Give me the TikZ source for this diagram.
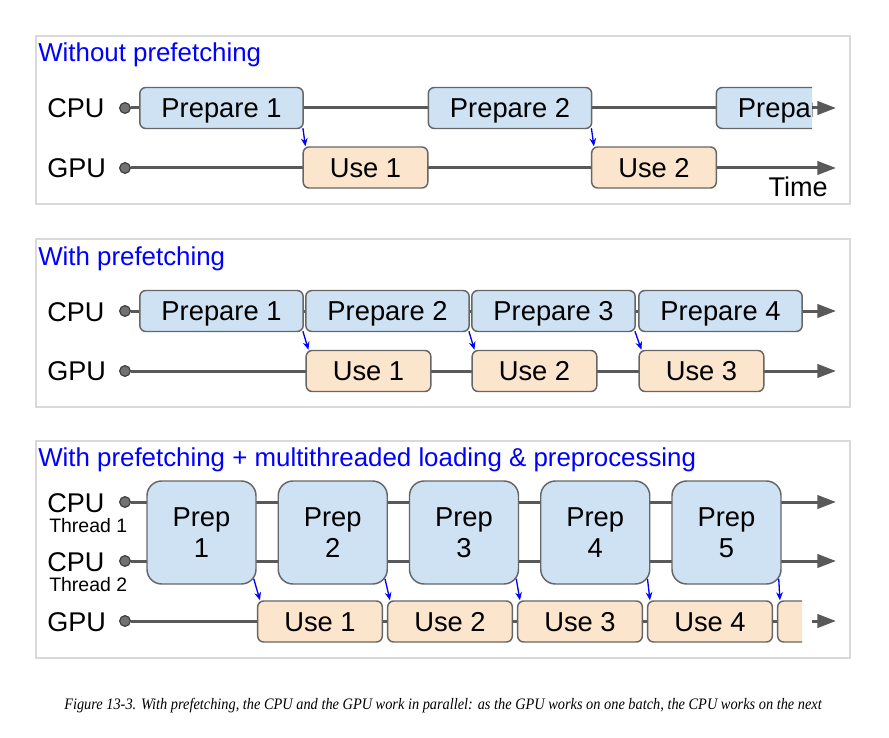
\documentclass[tikz,border=0pt]{standalone}
\usepackage{graphicx}
\usepackage{fontspec}
\setmainfont{Liberation Sans}
\newfontfamily\capfont{Liberation Serif}
\usetikzlibrary{arrows.meta,calc}
\definecolor{lineg}{HTML}{595959}
\definecolor{boxb}{HTML}{CFE2F3}
\definecolor{boxo}{HTML}{FCE5CD}
\definecolor{edgeg}{HTML}{666666}
\definecolor{frameg}{HTML}{D9D9D9}
\definecolor{ttl}{HTML}{0000FF}
\tikzset{
 frame/.style={draw=frameg,line width=1.5pt},
 title/.style={anchor=base west,text=ttl,font=\fontsize{19.4}{22}\selectfont,inner sep=0},
 lbl/.style={anchor=west,font=\fontsize{20.3}{24}\selectfont,inner sep=0},
 thr/.style={anchor=west,font=\fontsize{14.6}{17}\selectfont,inner sep=0},
 dot/.style={circle,fill=lineg!85,draw=lineg!70!black,line width=0.9pt,minimum size=8pt,inner sep=0},
 tl/.style={draw=lineg,line width=2.25pt},
 tla/.style={tl,-{Triangle[length=14pt,width=10pt,fill=lineg]}},
 boxbase/.style={draw=edgeg,line width=1.1pt,rounded corners=4.5pt,font=\fontsize{20.5}{24}\selectfont,inner sep=0,minimum height=30.75pt},
 prep/.style={boxbase,fill=boxb,minimum width=122.5pt,text height=14.6pt,text depth=0pt},
 use/.style={boxbase,fill=boxo,minimum width=93.5pt,text height=14.6pt,text depth=0pt},
 bigprep/.style={boxbase,fill=boxb,minimum width=81.75pt,minimum height=77.25pt,rounded corners=11pt,align=center,font=\fontsize{20.5}{23.25}\selectfont},
 feed/.style={draw=blue,line width=1pt,-{Stealth[length=6pt,width=5pt]}},
}
\begin{document}
\begin{tikzpicture}[x=0.75pt,y=-0.75pt]
\useasboundingbox[fill=white] (0,0) rectangle (889,738);
% ---------- frames ----------
\draw[frame] (36,36) rectangle (850,204);
\draw[frame] (36,239) rectangle (850,407);
\draw[frame] (36,441) rectangle (850,658);
% ---------- panel 1 ----------
\node[title] (t1) at (38,62) {Without prefetching};
\node[lbl] (lc1) at (47,108) {CPU};
\node[lbl] (lg1) at (47,168) {GPU};
\node[dot] (dc1) at (125,108) {};
\node[dot] (dg1) at (125,168) {};
\coordinate (ec1) at (836,108);
\coordinate (sc1) at (812,108);
\coordinate (eg1) at (836,168);
\draw[tl] (dc1) -- (716,108);
\draw[tla] (sc1) -- (ec1);
\draw[tla] (dg1) -- (eg1);
\node[prep] (a1) at (221.5,108) {Prepare 1};
\node[prep] (a2) at (510,108) {Prepare 2};
\begin{scope}
\clip (700,80) rectangle (812,140);
\node[prep] (a3) at (798,108) {Prepare 3};
\end{scope}
\node[use] (b1) at (365.5,167.5) {Use 1};
\node[use] (b2) at (654,167.5) {Use 2};
\node[anchor=base east,font=\fontsize{20.3}{24}\selectfont,inner sep=0] (time) at (828,197) {Time};
\draw[feed] ($(a1.south east)+(-1,-1)$) -- ($(b1.north west)+(3,0)$);
\draw[feed] ($(a2.south east)+(-1,-1)$) -- ($(b2.north west)+(3,0)$);
% ---------- panel 2 ----------
\node[title] (t2) at (38,265) {With prefetching};
\node[lbl] (lc2) at (47,312) {CPU};
\node[lbl] (lg2) at (47,371) {GPU};
\node[dot] (dc2) at (125,311) {};
\node[dot] (dg2) at (125,371) {};
\coordinate (ec2) at (836,311);
\coordinate (eg2) at (836,371);
\draw[tla] (dc2) -- (ec2);
\draw[tla] (dg2) -- (eg2);
\node[prep] (c1) at (221.5,311) {Prepare 1};
\node[prep] (c2) at (387.5,311) {Prepare 2};
\node[prep] (c3) at (553.5,311) {Prepare 3};
\node[prep] (c4) at (720.5,311) {Prepare 4};
\node[use] (d1) at (368.5,371) {Use 1};
\node[use] (d2) at (534.5,371) {Use 2};
\node[use] (d3) at (701.5,371) {Use 3};
\draw[feed] ($(c1.south east)+(-1,-1)$) -- ($(d1.north west)+(3,0)$);
\draw[feed] ($(c2.south east)+(-1,-1)$) -- ($(d2.north west)+(3,0)$);
\draw[feed] ($(c3.south east)+(-1,-1)$) -- ($(d3.north west)+(3,0)$);
% ---------- panel 3 ----------
\node[title] (t3) at (38,466) {With prefetching + multithreaded loading \& preprocessing};
\node[lbl] (lc3) at (47,503) {CPU};
\node[thr] (th1) at (49,526) {Thread 1};
\node[lbl] (lc4) at (47,562) {CPU};
\node[thr] (th2) at (49,585) {Thread 2};
\node[lbl] (lg3) at (47,622) {GPU};
\node[dot] (dc3) at (125,502) {};
\node[dot] (dc4) at (125,561) {};
\node[dot] (dg3) at (125,621) {};
\coordinate (ec3) at (836,502);
\coordinate (ec4) at (836,561);
\coordinate (sg3) at (812,621);
\coordinate (eg3) at (836,621);
\draw[tla] (dc3) -- (ec3);
\draw[tla] (dc4) -- (ec4);
\draw[tl] (dg3) -- (778,621);
\draw[tla] (sg3) -- (eg3);
\node[bigprep] (e1) at (201.5,532.5) {Prep\\1};
\node[bigprep] (e2) at (332.75,532.5) {Prep\\2};
\node[bigprep] (e3) at (464,532.5) {Prep\\3};
\node[bigprep] (e4) at (595.25,532.5) {Prep\\4};
\node[bigprep] (e5) at (726.5,532.5) {Prep\\5};
\node[use] (f1) at (320,621.5) {Use 1};
\node[use] (f2) at (450,621.5) {Use 2};
\node[use] (f3) at (580,621.5) {Use 3};
\node[use] (f4) at (710,621.5) {Use 4};
\begin{scope}
\clip (770,595) rectangle (802,650);
\node[use] (f5) at (840,621.5) {Use 5};
\end{scope}
\foreach \i in {1,...,5}{
  \draw[feed] ($(e\i.south east)+(-3,-6)$) -- ($(f\i.north west)+(3,0)$);
}
% ---------- caption ----------
\node[anchor=base west,inner sep=0,font=\capfont\itshape\fontsize{12}{14}\selectfont] (cap) at (64,709) {\scalebox{0.897}[1]{Figure 13-3. With prefetching, the CPU and the GPU work in parallel: as the GPU works on one batch, the CPU works on the next}};
\end{tikzpicture}
\end{document}
